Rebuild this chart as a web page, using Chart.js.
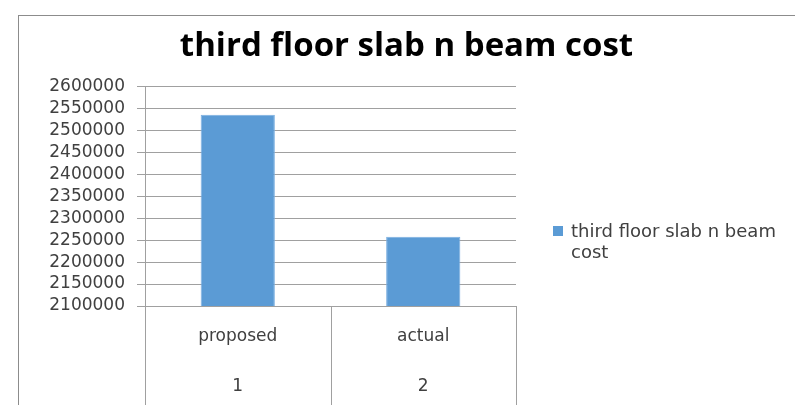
<!DOCTYPE html>
<html lang="en">
<head>
    <meta charset="UTF-8">
    <title>third floor slab n beam cost</title>
    <script src="https://cdn.jsdelivr.net/npm/chart.js@4.4.1/dist/chart.umd.min.js"></script>
    <style>
        body {
            margin: 0;
            background-color: white;
            width: 795px;
            height: 405px;
            overflow: hidden;
            position: relative;
        }
        .frame {
            position: absolute;
            left: 18px;
            top: 15px;
            width: 800px;
            height: 400px;
            border-left: 1px solid #8c8c8c;
            border-top: 1px solid #8c8c8c;
        }
        #costChart {
            position: absolute;
            left: 0;
            top: 0;
        }
        .legend {
            position: absolute;
            left: 553px;
            top: 220px;
            font-family: "DejaVu Sans", sans-serif;
            font-size: 18px;
            line-height: 21px;
            color: #404040;
        }
        .legend .box {
            position: absolute;
            left: 0;
            top: 6px;
            width: 10px;
            height: 10px;
            background-color: #5b9bd5;
        }
        .legend .text {
            margin-left: 18px;
            width: 220px;
        }
    </style>
</head>
<body>
    <div class="frame"></div>
    <canvas id="costChart" width="795" height="405"></canvas>
    <div class="legend"><span class="box"></span><div class="text" id="legendText"></div></div>

    <script>
        const seriesName = 'third floor slab n beam cost';
        const categories = ['proposed', 'actual'];
        const categoryIndex = ['1', '2'];
        const costs = [2536000, 2258000];
        const yMin = 2100000;
        const yMax = 2600000;
        const yStep = 50000;

        const gridColor = '#a0a0a0';

        document.getElementById('legendText').textContent = seriesName;

        // vertical separators below the plot, between the categories
        const separators = {
            id: 'separators',
            afterDraw(chart) {
                const x = chart.scales.x;
                const ctx = chart.ctx;
                ctx.save();
                ctx.strokeStyle = gridColor;
                ctx.lineWidth = 1;
                for (let i = 0; i <= categories.length; i++) {
                    const px = Math.round(x.getPixelForValue(i - 0.5)) + 0.5;
                    ctx.beginPath();
                    ctx.moveTo(px, chart.chartArea.bottom);
                    ctx.lineTo(px, chart.height);
                    ctx.stroke();
                }
                ctx.restore();
            }
        };

        const ctx = document.getElementById('costChart').getContext('2d');
        new Chart(ctx, {
            type: 'bar',
            data: {
                labels: categories.map((c, i) => [c, '', categoryIndex[i]]),
                datasets: [{
                    label: seriesName,
                    data: costs,
                    backgroundColor: '#5b9bd5',
                    borderColor: '#7aaee0',
                    borderWidth: 1,
                    categoryPercentage: 1,
                    barPercentage: 0.4
                }]
            },
            options: {
                responsive: false,
                animation: false,
                layout: { padding: { left: 18, top: 0, right: 0, bottom: 0 } },
                plugins: {
                    legend: { display: false },
                    tooltip: { enabled: false },
                    title: {
                        display: true,
                        text: seriesName,
                        color: '#000',
                        font: { family: 'Open Sans', size: 33, weight: 'bold', lineHeight: 1.2 },
                        padding: { top: 27, bottom: 20 }
                    }
                },
                scales: {
                    x: {
                        grid: { display: false },
                        border: { display: true, color: gridColor },
                        ticks: {
                            color: '#404040',
                            padding: 10,
                            font: { family: 'DejaVu Sans', size: 17, lineHeight: '25px' }
                        },
                        afterFit(s) { s.height = 99; }
                    },
                    y: {
                        min: yMin,
                        max: yMax,
                        grid: { color: gridColor, tickLength: 8 },
                        border: { color: gridColor },
                        ticks: {
                            stepSize: yStep,
                            autoSkip: false,
                            color: '#404040',
                            padding: 12,
                            font: { family: 'DejaVu Sans', size: 17, lineHeight: 1 },
                            callback: v => String(v)
                        },
                        afterFit(s) { s.width = 127; }
                    },
                    legendSpace: {
                        position: 'right',
                        display: true,
                        grid: { display: false },
                        border: { display: false },
                        ticks: { display: false },
                        afterFit(s) { s.width = 279; }
                    }
                }
            },
            plugins: [separators]
        });
    </script>
</body>
</html>
